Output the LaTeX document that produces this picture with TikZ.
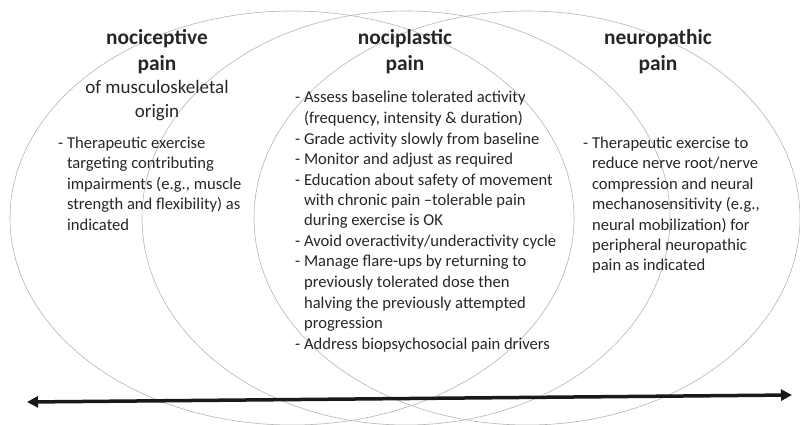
\documentclass[tikz,border=0pt]{standalone}
\usepackage{fontspec}
\setmainfont{Carlito}
\usetikzlibrary{arrows.meta}
\definecolor{txt}{HTML}{262626}
\definecolor{ringc}{HTML}{B4B4B4}
\newcommand{\cont}{\hphantom{- }}
\begin{document}
\begin{tikzpicture}[x=1pt,y=-1pt,
  ring/.style={draw=ringc, line width=0.6pt},
  ttl/.style={inner sep=0pt, anchor=base, text=txt, font=\fontsize{21.4}{25.5}\selectfont\bfseries},
  subttl/.style={inner sep=0pt, anchor=base, text=txt, font=\fontsize{19}{24}\selectfont},
  body/.style={inner sep=0pt, anchor=base west, text=txt, font=\fontsize{16.6}{20.5}\selectfont},
  axis/.style={line width=3.5pt, draw=black!90, {Triangle[length=11pt,width=11pt]}-{Triangle[length=11pt,width=11pt]}}
]
\useasboundingbox (0,0) rectangle (800,425);
\begin{scope}
  \clip (0,0) rectangle (800,425);
  \draw[ring] (292,218) ellipse [x radius=282pt, y radius=207pt];
  \draw[ring] (406,218) ellipse [x radius=264pt, y radius=207pt];
  \draw[ring] (527,218) ellipse [x radius=273pt, y radius=207pt];
\end{scope}

% titles
\node[ttl] (t1) at (157,45) {\parbox[t]{160pt}{\centering nociceptive\\pain}};
\node[subttl] (s1) at (157,94) {\parbox[t]{180pt}{\centering of musculoskeletal\\origin}};
\node[ttl] (t2) at (405,45) {\parbox[t]{160pt}{\centering nociplastic\\pain}};
\node[ttl] (t3) at (658,45) {\parbox[t]{160pt}{\centering neuropathic\\pain}};

% bodies
\node[body] (b1) at (58,148) {\parbox[t]{220pt}{\raggedright
- Therapeutic exercise\\
\cont targeting contributing\\
\cont impairments (e.g., muscle\\
\cont strength and flexibility) as\\
\cont indicated}};

\node[body] (b2) at (295,103) {\parbox[t]{280pt}{\raggedright
- Assess baseline tolerated activity\\
\cont (frequency, intensity \& duration)\\
- Grade activity slowly from baseline\\
- Monitor and adjust as required\\
- Education about safety of movement\\
\cont with chronic pain –tolerable pain\\
\cont during exercise is OK\\
- Avoid overactivity/underactivity cycle\\
- Manage flare-ups by returning to\\
\cont previously tolerated dose then\\
\cont halving the previously attempted\\
\cont progression\\
- Address biopsychosocial pain drivers}};

\node[body] (b3) at (583,148) {\parbox[t]{220pt}{\raggedright
- Therapeutic exercise to\\
\cont reduce nerve root/nerve\\
\cont compression and neural\\
\cont mechanosensitivity (e.g.,\\
\cont neural mobilization) for\\
\cont peripheral neuropathic\\
\cont pain as indicated}};

% axis arrow
\coordinate (aL) at (27,402);
\coordinate (aR) at (792,395);
\draw[axis] (aL) -- (aR);
\end{tikzpicture}
\end{document}
